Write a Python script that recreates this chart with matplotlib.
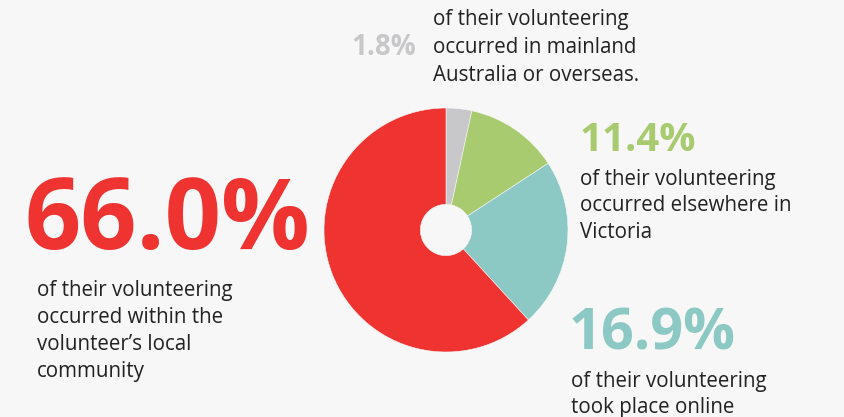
import matplotlib.pyplot as plt

# pie shares as drawn (the slices), and the printed percentages
slice_names = ["Mainland / overseas", "Elsewhere in Victoria", "Online", "Local community"]
slice_shares = [3.4, 12.4, 22.4, 61.8]
slice_colors = ["#c8c8ca", "#a9cb6f", "#8dc9c4", "#ee3330"]

pct_labels = ["1.8%", "11.4%", "16.9%", "66.0%"]
body_texts = [
    ["of their volunteering", "occurred in mainland", "Australia or overseas."],
    ["of their volunteering", "occurred elsewhere in", "Victoria"],
    ["of their volunteering", "took place online"],
    ["of their volunteering", "occurred within the", "volunteer\u2019s local", "community"],
]

W, H = 844, 417
bg = "#f7f7f7"
dark = "#222222"
plt.rcParams['font.family'] = ['Open Sans', 'DejaVu Sans']

fig = plt.figure(figsize=(W / 100, H / 100), dpi=100, facecolor=bg)


def fx(x):
    return x / W


def fy(y):
    return 1 - y / H


# donut
cx, cy, r = 446, 230, 122
ax = fig.add_axes([fx(cx - r), fy(cy + r), 2 * r / W, 2 * r / H])
ax.pie(slice_shares, colors=slice_colors, startangle=90, counterclock=False,
       radius=1, wedgeprops=dict(width=0.79, edgecolor=bg, linewidth=0.4))
ax.set_xlim(-1, 1)
ax.set_ylim(-1, 1)
ax.set_aspect('auto')
ax.axis('off')

# big numbers: (x_left, baseline, size)
big = [(351, 55, 20), (580, 151, 29), (569, 350, 41.5), (25, 249, 71)]
# body text: (x_left, first baseline, spacing)
body = [(433, 25, 28), (580, 185, 26.5), (571, 387, 26), (37, 296, 27)]

for i in range(4):
    x, yb, s = big[i]
    fig.text(fx(x), fy(yb), pct_labels[i], color=slice_colors[i], fontsize=s,
             fontweight='bold', va='baseline', ha='left')
    x, yb, sp = body[i]
    for j, line in enumerate(body_texts[i]):
        fig.text(fx(x), fy(yb + j * sp), line, color=dark, fontsize=14.8,
                 va='baseline', ha='left')

fig.savefig("out.png", dpi=100, facecolor=bg)
